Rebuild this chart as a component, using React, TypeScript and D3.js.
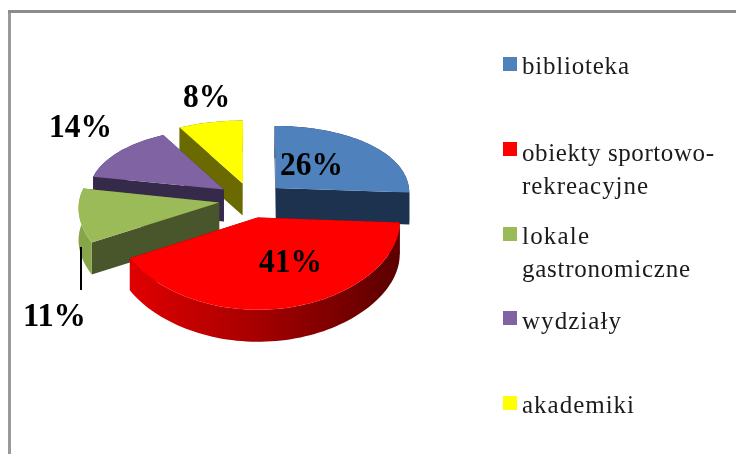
import React from "react";
import * as d3 from "d3";

const categories = ["biblioteka", "obiekty sportowo-\nrekreacyjne", "lokale\ngastronomiczne", "wydziały", "akademiki"];
const values = [26, 41, 11, 14, 8];
const topColors = ["#4f81bd", "#ff0000", "#9bbb59", "#8064a2", "#ffff00"];
const faceColors = ["#1f3350", "#7a0000", "#4a5429", "#35294a", "#6b6b00"];
const wallColors = ["#1f3350", "url(#redWall)", "#87a54a", "#35294a", "#6b6b00"];
const drawOrder = [4, 3, 2, 0, 1];

const W = 736, H = 454;
const cx = 250, cy = 199, R = 140, Ry = 76.2, ky = 0.144, kx = 0.06, explode = 0.215, depth = 32;
// Per-slice layout corrections, applied around each slice's apex.
const sliceTweak = [
  { dx: 4, dy: 0, sx: 0.96, sy: 0.97 },
  { dx: 1, dy: 2, sx: 1, sy: 0.97 },
  { dx: -1, dy: 1, sx: 1, sy: 1 },
  { dx: -2, dy: 0, sx: 0.97, sy: 0.95 },
  { dx: 0, dy: 0, sx: 1, sy: 1 },
];

const pie = d3.pie<number>().sort(null).value((d) => d)(values);

function project(u: number, v: number): [number, number] {
  return [cx + (R * u) / (1 - kx * v), cy + (Ry * v) / (1 - ky * v)];
}

function slicePoints(a0: number, a1: number, idx: number) {
  const mid = (a0 + a1) / 2;
  const ox = explode * Math.sin(mid), oy = -explode * Math.cos(mid);
  const t = sliceTweak[idx];
  const [ax, ay] = project(ox, oy);
  const at = (a: number): [number, number] => {
    const [x, y] = project(ox + Math.sin(a), oy - Math.cos(a));
    return [ax + t.dx + (x - ax) * t.sx, ay + t.dy + (y - ay) * t.sy];
  };
  const n = Math.max(8, Math.ceil((a1 - a0) * 30));
  const arc = d3.range(n + 1).map((i) => at(a0 + ((a1 - a0) * i) / n));
  return { apex: [ax + t.dx, ay + t.dy] as [number, number], arc };
}

const line = d3.line();
const down = (p: [number, number]): [number, number] => [p[0], p[1] + depth];

const legendRows = [
  { y: 57, lines: [{ y: 74, w: 107 }] },
  { y: 142, lines: [{ y: 161, w: 192 }, { y: 194, w: 126 }] },
  { y: 227, lines: [{ y: 244, w: 67 }, { y: 277, w: 168 }] },
  { y: 311, lines: [{ y: 329, w: 99 }] },
  { y: 396, lines: [{ y: 413, w: 112 }] },
];
const pctPos = [
  { x: 280, y: 175 }, { x: 259, y: 272 }, { x: 23, y: 326 }, { x: 49, y: 137 }, { x: 183, y: 107 },
];

export default function App() {
  return (
    <svg width={W} height={H} style={{ position: "absolute", left: 0, top: 0, background: "#fff" }}>
      <defs>
        <linearGradient id="redWall" gradientUnits="userSpaceOnUse" x1={130} x2={400} y1={0} y2={0}>
          <stop offset="0" stopColor="#e00000" />
          <stop offset="0.45" stopColor="#a80000" />
          <stop offset="1" stopColor="#5a0000" />
        </linearGradient>
        <filter id="soft" x="-5%" y="-5%" width="110%" height="110%">
          <feGaussianBlur stdDeviation="0.45" />
        </filter>
      </defs>
      <g filter="url(#soft)">
        <rect x={8} y={10} width={3} height={H - 10} fill="#999" />
        <rect x={8} y={10} width={W - 8} height={3} fill="#8c8c8c" />
        {drawOrder.map((i) => {
          const d = pie[i];
          const { apex, arc } = slicePoints(d.startAngle, d.endAngle, i);
          const first = arc[0], last = arc[arc.length - 1];
          const wall = [...arc, ...arc.slice().reverse().map(down)];
          const face = (p: [number, number]) => [apex, p, down(p), down(apex)] as [number, number][];
          return (
            <g key={i}>
              <path d={line(face(first))! + "Z"} fill={faceColors[i]} />
              <path d={line(face(last))! + "Z"} fill={faceColors[i]} />
              <path d={line(wall)! + "Z"} fill={wallColors[i]} />
              <path d={line([apex, ...arc])! + "Z"} fill={topColors[i]} />
            </g>
          );
        })}
        <line x1={81} x2={81} y1={247} y2={290} stroke="#000" strokeWidth={2} />
        {values.map((v, i) => (
          <text key={i} x={pctPos[i].x} y={pctPos[i].y} fontFamily="'Liberation Serif', serif" fontWeight="bold" fontSize={33} fill="#000"
            textLength={(String(v).length * 0.5 + 1) * 31.5} lengthAdjust="spacingAndGlyphs">
            {v}%
          </text>
        ))}
        {categories.map((c, i) => (
          <g key={i}>
            <rect x={503} y={legendRows[i].y} width={14} height={14} fill={topColors[i]} />
            {c.split("\n").map((t, j) => (
              <text key={j} x={522} y={legendRows[i].lines[j].y} fontFamily="'Liberation Serif', serif" fontSize={25} fill="#1a1a1a"
                textLength={legendRows[i].lines[j].w} lengthAdjust="spacing">
                {t}
              </text>
            ))}
          </g>
        ))}
      </g>
    </svg>
  );
}
